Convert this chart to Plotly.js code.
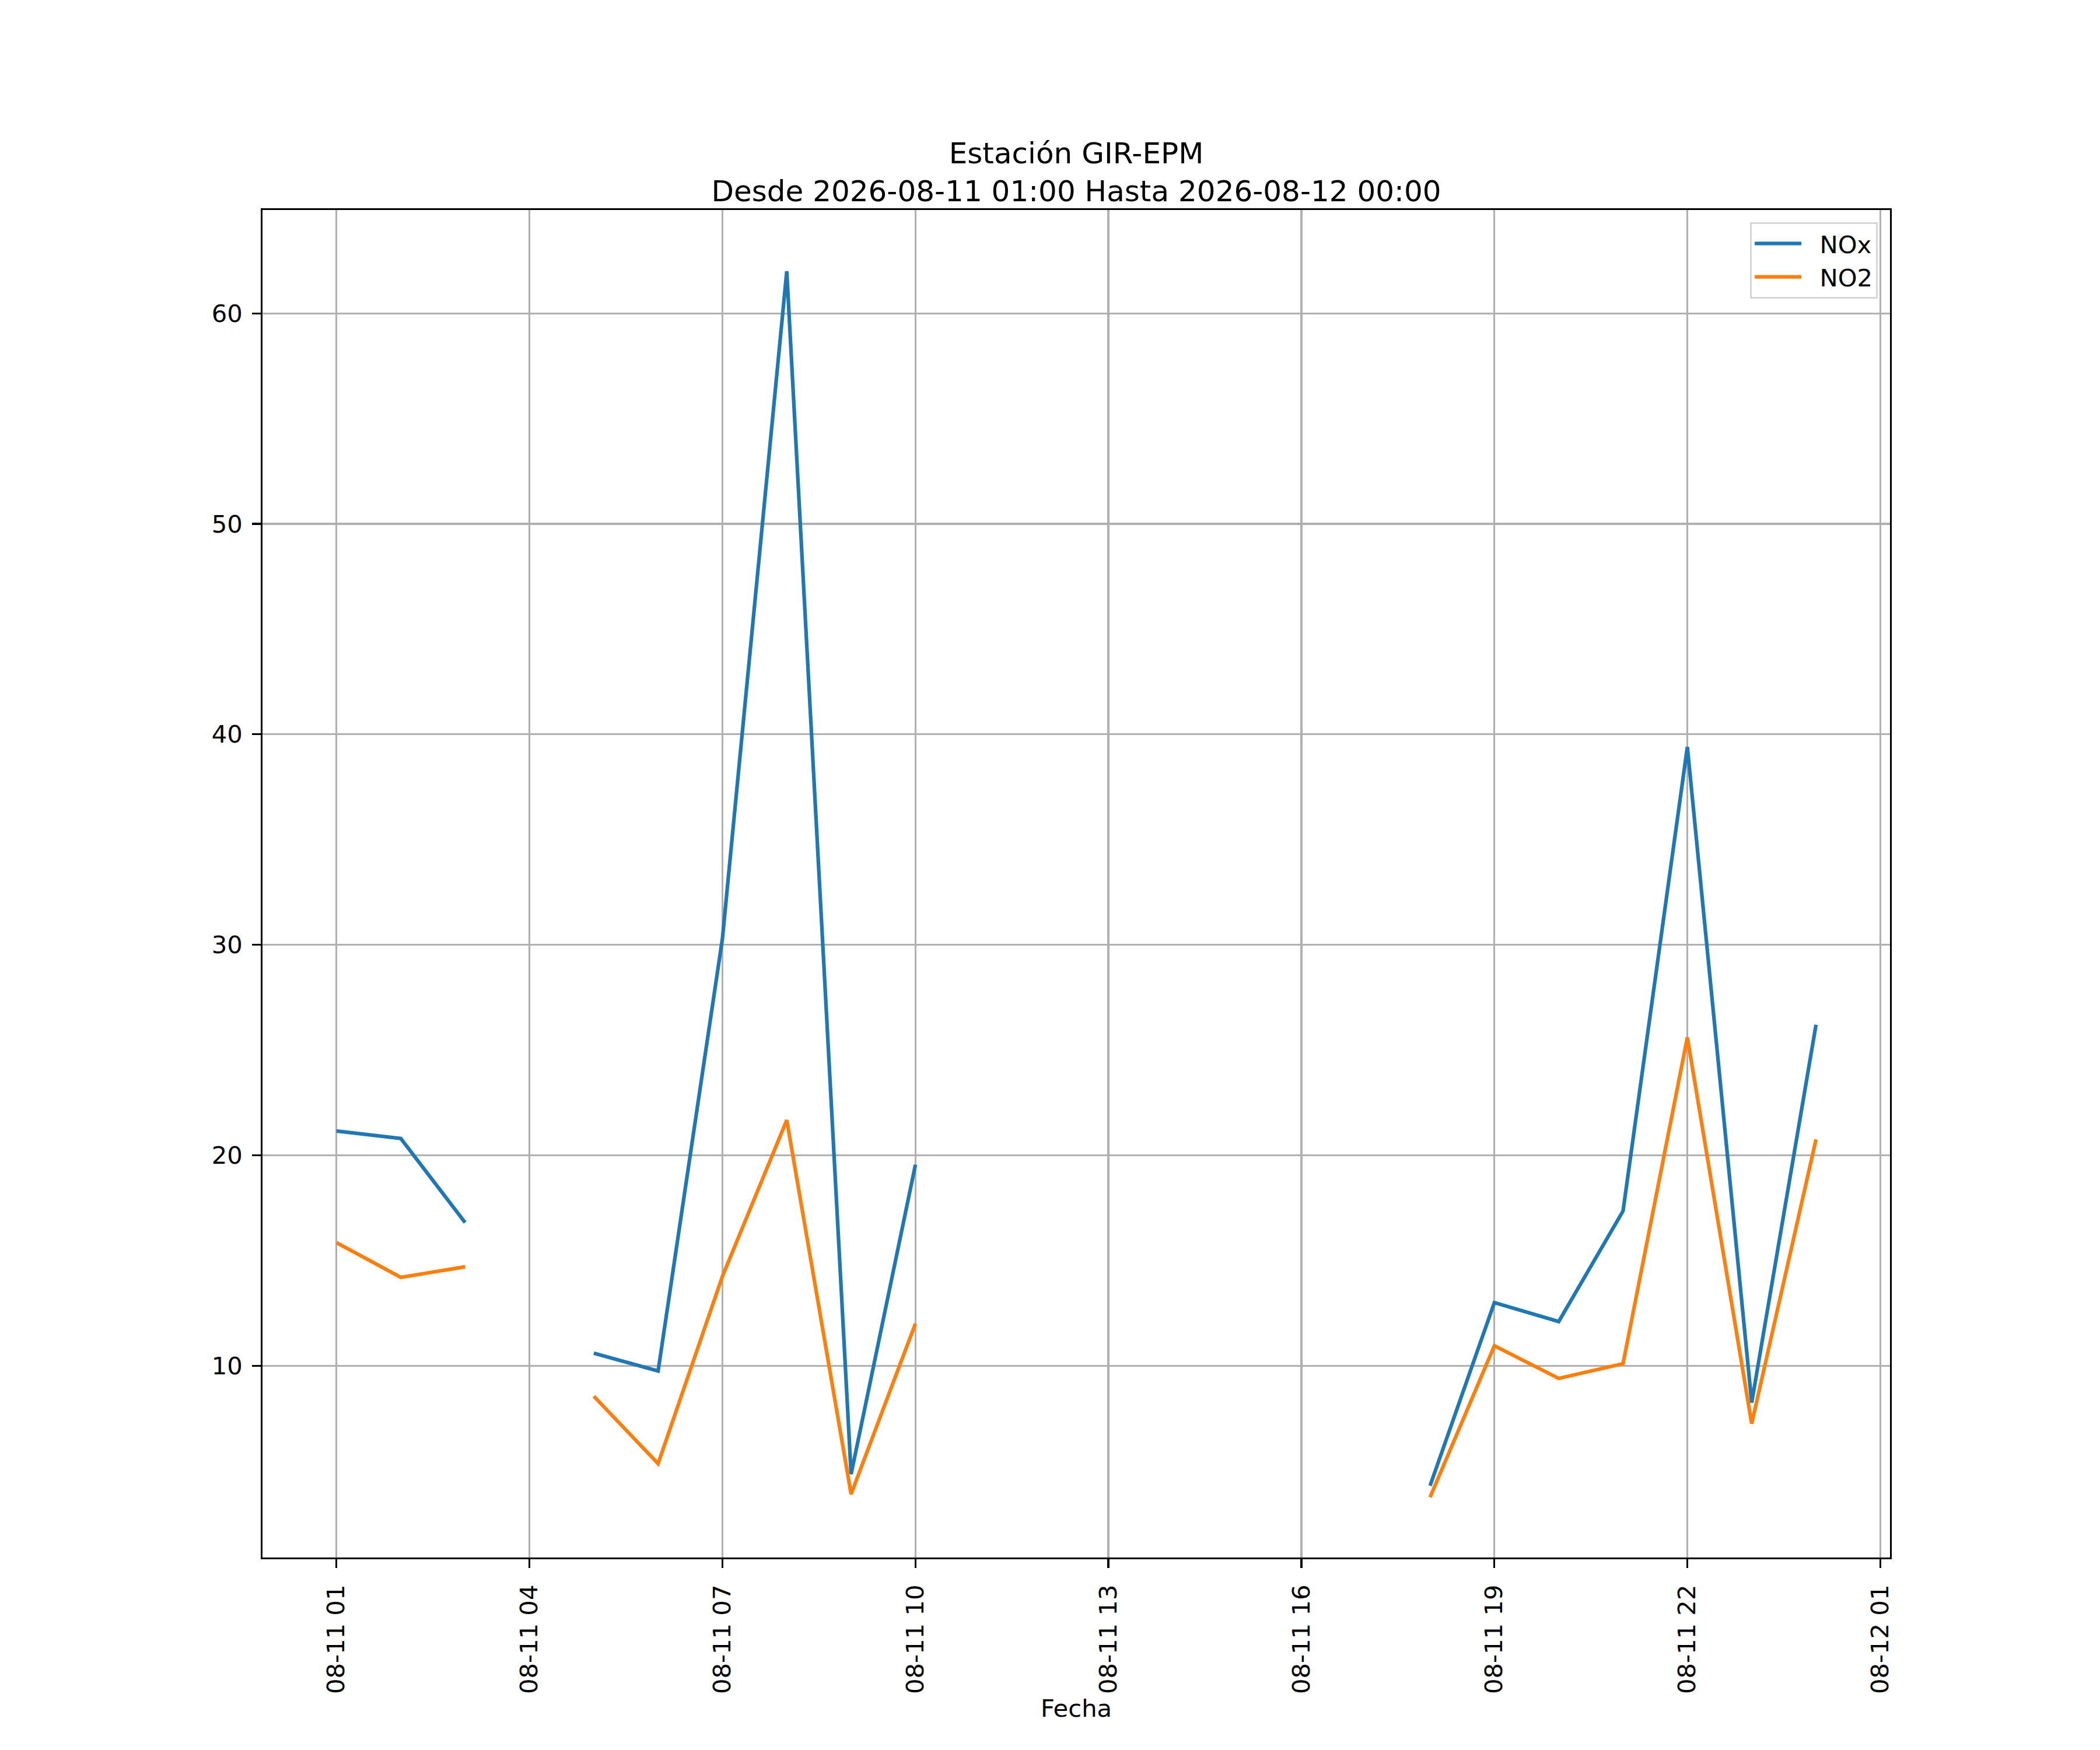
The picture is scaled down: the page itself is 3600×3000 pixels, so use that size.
<!DOCTYPE html>
<html>
<head>
<meta charset="utf-8">
<script src="https://cdn.plot.ly/plotly-3.0.1.min.js"></script>
<style>
  html, body { margin: 0; padding: 0; background: #ffffff; }
  #chart { width: 3600px; height: 3000px; }
</style>
</head>
<body>
<div id="chart"></div>
<script>
/* Estación GIR-EPM — NOx y NO2 horarios, 2026-08-11 01:00 a 2026-08-12 00:00
   Horas sin dato van como null (la línea se corta). */

var fechas = [
  '2026-08-11 01:00', '2026-08-11 02:00', '2026-08-11 03:00', '2026-08-11 04:00',
  '2026-08-11 05:00', '2026-08-11 06:00', '2026-08-11 07:00', '2026-08-11 08:00',
  '2026-08-11 09:00', '2026-08-11 10:00', '2026-08-11 11:00', '2026-08-11 12:00',
  '2026-08-11 13:00', '2026-08-11 14:00', '2026-08-11 15:00', '2026-08-11 16:00',
  '2026-08-11 17:00', '2026-08-11 18:00', '2026-08-11 19:00', '2026-08-11 20:00',
  '2026-08-11 21:00', '2026-08-11 22:00', '2026-08-11 23:00', '2026-08-12 00:00'
];

var nox = [21.15, 20.8, 16.8, null, 10.6, 9.75, 30.3, 62.0, 4.85, 19.55, null, null,
           null, null, null, null, null, 4.3, 13.0, 12.1, 17.35, 39.4, 8.25, 26.2];

var no2 = [15.85, 14.2, 14.7, null, 8.55, 5.35, 14.25, 21.67, 3.9, 12.0, null, null,
           null, null, null, null, null, 3.75, 10.95, 9.4, 10.1, 25.6, 7.25, 20.75];

var nombres = ['NOx', 'NO2'];
var titulo = 'Estación GIR-EPM<br>Desde 2026-08-11 01:00 Hasta 2026-08-12 00:00';

(function () {
  var el = document.getElementById('chart');

  var C = {
    blue:   '#1f77b4',
    orange: '#ff7f0e',
    grid:   '#b0b0b0',
    ink:    '#000000'
  };
  var FONT = 'DejaVu Sans, sans-serif';
  var LW = 6.25;     // 1.5 pt a 300 dpi
  var THIN = 3.3;    // 0.8 pt
  var GAP = '\u00a0\u00a0';  // separación entre la línea y el texto de la leyenda

  var traces = [
    {
      type: 'scatter', mode: 'lines', name: GAP + nombres[0],
      x: fechas, y: nox,
      line: { color: C.blue, width: LW },
      connectgaps: false
    },
    {
      type: 'scatter', mode: 'lines', name: GAP + nombres[1],
      x: fechas, y: no2,
      line: { color: C.orange, width: LW },
      connectgaps: false
    }
  ];

  var axisBase = {
    showline: true, linecolor: C.ink, linewidth: THIN, mirror: true,
    ticks: 'outside', ticklen: 14.6, tickwidth: THIN, tickcolor: C.ink,
    showgrid: true, gridcolor: C.grid, gridwidth: THIN,
    zeroline: false,
    tickfont: { family: FONT, size: 41.7, color: C.ink }
  };

  var layout = {
    width: 3600, height: 3000, autosize: false,
    paper_bgcolor: '#ffffff', plot_bgcolor: '#ffffff',
    font: { family: FONT, color: C.ink, size: 41.7 },
    margin: { l: 450, r: 360, t: 360, b: 330, pad: 0 },
    title: {
      text: titulo,
      font: { family: FONT, size: 50, color: C.ink },
      x: 0.5, xref: 'paper', xanchor: 'center',
      y: 1 - 280 / 3000, yref: 'container', yanchor: 'bottom'
    },
    xaxis: Object.assign({}, axisBase, {
      type: 'date',
      range: ['2026-08-10 23:51', '2026-08-12 01:09'],
      tick0: '2026-08-11 01:00',
      dtick: 3 * 3600 * 1000,
      tickformat: '%m-%d %H',
      tickangle: -90,
      ticklabelstandoff: 12,
      title: { text: 'Fecha', font: { family: FONT, size: 41.7, color: C.ink }, standoff: 10 }
    }),
    yaxis: Object.assign({}, axisBase, {
      range: [0.89, 64.91],
      tick0: 0, dtick: 10,
      ticklabelstandoff: 8
    }),
    showlegend: true,
    legend: {
      x: 0.9925, y: 0.991, xanchor: 'right', yanchor: 'top',
      bgcolor: '#ffffff', bordercolor: '#d6d6d6', borderwidth: 3,
      font: { family: FONT, size: 41.7, color: C.ink },
      itemwidth: 80
    }
  };

  Plotly.newPlot(el, traces, layout, { displayModeBar: false, staticPlot: true });
})();
</script>
</body>
</html>
